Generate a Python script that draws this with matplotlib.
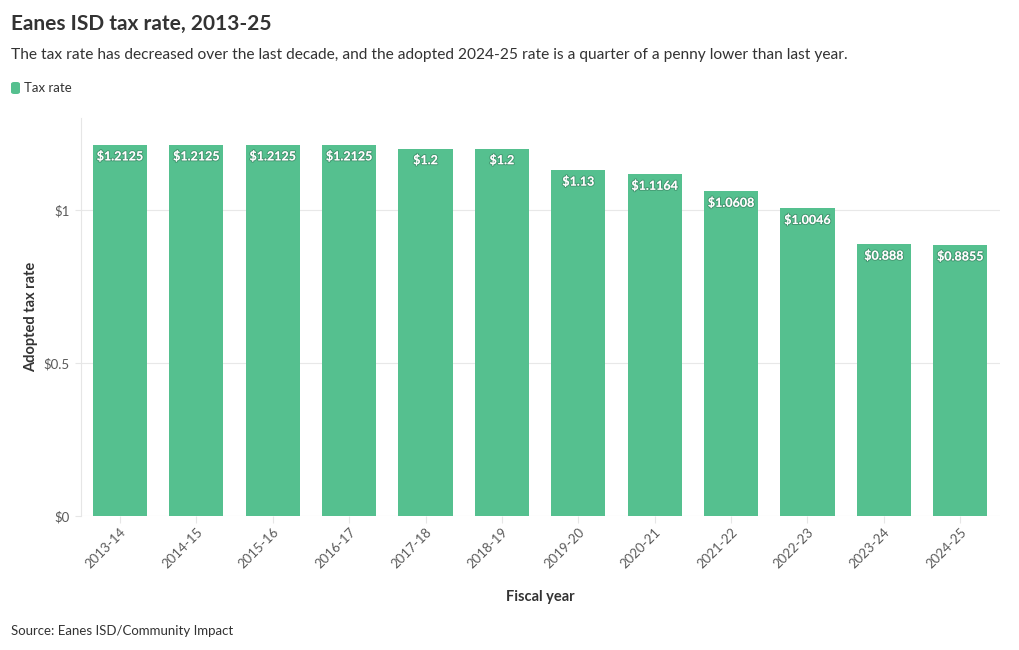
import matplotlib
matplotlib.use("Agg")
import matplotlib.pyplot as plt
import matplotlib.patheffects as pe
from matplotlib.patches import FancyBboxPatch

years = ["2013-14", "2014-15", "2015-16", "2016-17", "2017-18", "2018-19",
         "2019-20", "2020-21", "2021-22", "2022-23", "2023-24", "2024-25"]
rates = [1.2125, 1.2125, 1.2125, 1.2125, 1.2, 1.2, 1.13, 1.1164, 1.0608, 1.0046, 0.888, 0.8855]
labels = ["$1.2125", "$1.2125", "$1.2125", "$1.2125", "$1.2", "$1.2", "$1.13",
          "$1.1164", "$1.0608", "$1.0046", "$0.888", "$0.8855"]
yticks = [0, 0.5, 1]
ytick_labels = ["$0", "$0.5", "$1"]

plt.rcParams['font.family'] = ['Lato', 'DejaVu Sans']
BAR = "#55c08f"
DARK = "#333333"

fig = plt.figure(figsize=(10.2, 6.5), dpi=100)
ax = fig.add_axes([81/1020, 1-516/650, (1000-81)/1020, (516-118)/650])

x = list(range(len(years)))
ax.bar(x, rates, width=0.71, color=BAR, zorder=2)
for xi, r, lab in zip(x, rates, labels):
    t = ax.annotate(lab, (xi, r), xytext=(0, -4), textcoords="offset points",
                    ha="center", va="top", color="white", fontsize=9,
                    fontweight="bold", zorder=3)
    t.set_path_effects([pe.withStroke(linewidth=1.5, foreground=(0, 0, 0, 0.2))])

ax.set_xlim(-0.51, 11.52)
ax.set_ylim(0, 1.3)
ax.set_yticks(yticks)
ax.set_yticklabels(ytick_labels)
ax.grid(axis="y", color="#e8e8e8", linewidth=0.8, zorder=0)
ax.set_axisbelow(True)
for s in ["top", "right", "bottom"]:
    ax.spines[s].set_visible(False)
ax.spines["left"].set_color("#e6e6e6")
ax.spines["left"].set_linewidth(0.8)
ax.tick_params(axis="y", length=4, color="#e6e6e6", labelsize=9.5, labelcolor="#5a5a5a", pad=4)
ax.tick_params(axis="x", length=5, color="#e6e6e6", labelsize=9.5, labelcolor="#5a5a5a", pad=2)
ax.set_xticks(x)
ax.set_xticklabels(years, rotation=45, ha="right", rotation_mode="anchor")

ax.set_ylabel("Adopted tax rate", fontsize=10.5, fontweight="bold", color=DARK, labelpad=4)
ax.set_xlabel("Fiscal year", fontsize=10.5, fontweight="bold", color=DARK, labelpad=14)

fig.text(11/1020, 1-24/650, "Eanes ISD tax rate, 2013-25", fontsize=15, fontweight="bold",
         color=DARK, va="center", ha="left")
fig.text(11/1020, 1-55/650, "The tax rate has decreased over the last decade, and the adopted 2024-25 rate is a quarter of a penny lower than last year.",
         fontsize=11.2, color=DARK, va="center", ha="left")
fig.patches.append(FancyBboxPatch((11/1020, 1-94/650), 9/1020, 12/650,
                                  boxstyle="round,pad=0,rounding_size=0.003",
                                  transform=fig.transFigure, facecolor=BAR, edgecolor="none"))
fig.text(24/1020, 1-88/650, "Tax rate", fontsize=9.5, color=DARK, va="center", ha="left")
fig.text(11/1020, 1-631/650, "Source: Eanes ISD/Community Impact", fontsize=9.5,
         color=DARK, va="center", ha="left")

fig.savefig("out.png", dpi=100)
